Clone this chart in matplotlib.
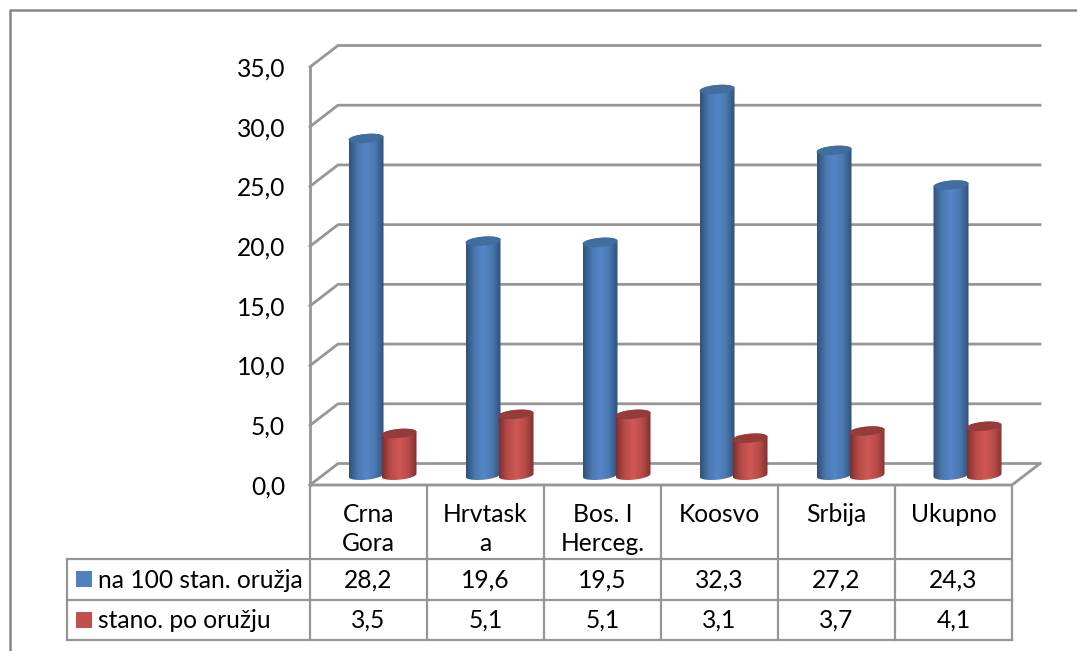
import matplotlib
matplotlib.use("Agg")
import matplotlib.pyplot as plt
import numpy as np
from matplotlib.colors import LinearSegmentedColormap
from matplotlib.patches import PathPatch
from matplotlib.path import Path

categories = ["Crna\nGora", "Hrvtask\na", "Bos. I\nHerceg.", "Koosvo", "Srbija", "Ukupno"]
series_names = ["na 100 stan. oružja", "stano. po oružju"]
guns_per_100 = [28.2, 19.6, 19.5, 32.3, 27.2, 24.3]
people_per_gun = [3.5, 5.1, 5.1, 3.1, 3.7, 4.1]
y_ticks = [0, 5, 10, 15, 20, 25, 30, 35]

W, H = 1077, 651
LEFT, RIGHT, BOTTOM, TOP = 310, 1012, 485, 67
DX_PX, DY_PX = 28, 21.5
GRID = "#969696"
FONT = "Lato"
FS = 17.7

plt.rcParams["font.family"] = [FONT, "DejaVu Sans"]

fig = plt.figure(figsize=(W / 100, H / 100), dpi=100)

# overlay in pixel coords for frame and data table
page = fig.add_axes([0, 0, 1, 1], zorder=0)
page.set_xlim(0, W)
page.set_ylim(H, 0)
page.axis("off")

ax = fig.add_axes([LEFT / W, 1 - BOTTOM / H, (RIGHT - LEFT) / W, (BOTTOM - TOP) / H], zorder=1)
ax.patch.set_alpha(0)
ax.set_xlim(0, 6)
ax.set_ylim(0, 35)
ax.axis("off")

px_x = 6 / (RIGHT - LEFT)
px_y = 35 / (BOTTOM - TOP)
depth_x = DX_PX * px_x
depth_y = DY_PX * px_y


def line(x, y, lw=2.0):
    ax.plot(x, y, color=GRID, lw=lw, clip_on=False, solid_capstyle="projecting", zorder=1)


# walls
for v in y_ticks:
    line([0, depth_x, 6 + depth_x], [v, v + depth_y, v + depth_y])
    ax.text(-25 * px_x, v - 2 * px_y, f"{v:.1f}".replace(".", ","), ha="right", va="center",
            fontsize=FS, color="black", clip_on=False)
line([0, 0], [0, 35])
line([0, 6, 6 + depth_x], [0, 0, depth_y])

blue_cmap = LinearSegmentedColormap.from_list("b", ["#2f5078", "#4a78b0", "#5585c6", "#4a78b0", "#2f5078"])
red_cmap = LinearSegmentedColormap.from_list("r", ["#7f2f2d", "#b84c49", "#d05754", "#b84c49", "#7f2f2d"])
gradient = np.linspace(0, 1, 256).reshape(1, -1)


def ellipse_points(cx, cy, half_w, half_h, t):
    # small tilt, the caps rise towards the right
    return cx + half_w * np.cos(t), cy + half_h * np.sin(t) + 1.5 * px_y * np.cos(t)


def cylinder(cx, value, cmap, top_color):
    half_w = 17.5 * px_x
    half_h = 4.5 * px_y
    base = depth_y * 0.5 - 1 * px_y
    t_low = np.linspace(0, -np.pi, 40)
    t_up = np.linspace(np.pi, 0, 40)
    xb, yb = ellipse_points(cx, base, half_w, half_h, t_low)
    xt, yt = ellipse_points(cx, base + value, half_w, half_h, t_up)
    verts = np.column_stack([np.r_[xb, xt], np.r_[yb, yt]])
    clip = PathPatch(Path(np.vstack([verts, verts[0]])), fc="none", ec="none", transform=ax.transData)
    ax.add_patch(clip)
    im = ax.imshow(gradient, cmap=cmap, aspect="auto", zorder=3, interpolation="bilinear",
                   extent=(cx - half_w, cx + half_w, base - 2 * half_h, base + value + 2 * half_h))
    im.set_clip_path(clip)
    t = np.linspace(0, 2 * np.pi, 80)
    xc, yc = ellipse_points(cx, base + value, half_w, half_h, t)
    ax.fill(xc, yc, color=top_color, lw=0, zorder=4)


for i in range(len(categories)):
    centre = i + 0.5 + depth_x * 0.5
    cylinder(centre - 16.5 * px_x, guns_per_100[i], blue_cmap, "#416d9f")
    cylinder(centre + 16.5 * px_x, people_per_gun[i], red_cmap, "#953b39")

ax.set_xlim(0, 6)
ax.set_ylim(0, 35)

# frame of the chart
page.plot([9.5, 9.5, W], [H, 10, 10], color="#868686", lw=1.8)

# data table
ROW_Y = [BOTTOM, 559, 600, 640]
KEY_X = 67
col_x = [LEFT + k * (RIGHT - LEFT) / 6 for k in range(7)]
for x in col_x:
    page.plot([x, x], [ROW_Y[0], ROW_Y[3]], color=GRID, lw=1.6)
page.plot([KEY_X, KEY_X], [ROW_Y[1], ROW_Y[3]], color=GRID, lw=1.6)
for y in ROW_Y[1:]:
    page.plot([KEY_X, RIGHT], [y, y], color=GRID, lw=1.6)

for i, cat in enumerate(categories):
    cx = (col_x[i] + col_x[i + 1]) / 2
    page.text(cx, 502.5, cat, ha="center", va="top", fontsize=FS, linespacing=1.34)
    for row, values in enumerate([guns_per_100, people_per_gun]):
        page.text(cx, (ROW_Y[row + 1] + ROW_Y[row + 2]) / 2 + 0.5, f"{values[i]:.1f}".replace(".", ","),
                  ha="center", va="center", fontsize=FS)

for row, (name, color) in enumerate(zip(series_names, ["#4f81bd", "#c0504d"])):
    yc = (ROW_Y[row + 1] + ROW_Y[row + 2]) / 2
    page.scatter([83.5], [yc - 0.5], marker="s", s=118, color=color, lw=0)
    page.text(98, yc + 0.5, name, ha="left", va="center", fontsize=FS)

fig.savefig("out.png", dpi=100)
